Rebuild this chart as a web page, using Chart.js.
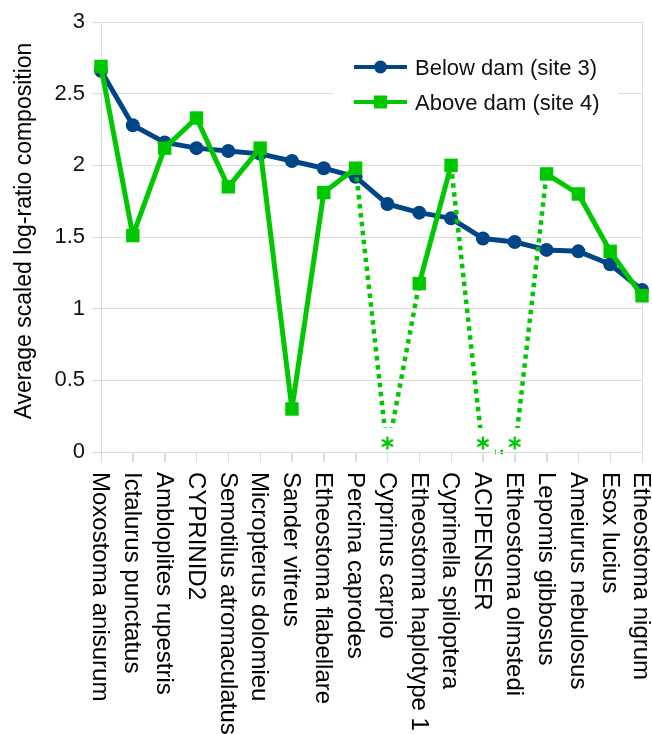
<!DOCTYPE html>
<html>
<head>
<meta charset="utf-8">
<script src="https://cdn.jsdelivr.net/npm/chart.js@4"></script>
<style>
  html, body { margin: 0; padding: 0; background: #fff; }
  #wrap { width: 652px; height: 734px; }
</style>
</head>
<body>
<div id="wrap"><canvas id="chart" width="652" height="734"></canvas></div>
<script>
const categories = [
  'Moxostoma anisurum', 'Ictalurus punctatus', 'Ambloplites rupestris', 'CYPRINID2',
  'Semotilus atromaculatus', 'Micropterus dolomieu', 'Sander vitreus', 'Etheostoma flabellare',
  'Percina caprodes', 'Cyprinus carpio', 'Etheostoma haplotype 1', 'Cyprinella spiloptera',
  'ACIPENSER', 'Etheostoma olmstedi', 'Lepomis gibbosus', 'Ameiurus nebulosus',
  'Esox lucius', 'Etheostoma nigrum'
];
const belowDam = [2.66, 2.28, 2.16, 2.12, 2.10, 2.08, 2.03, 1.98, 1.92, 1.73, 1.67, 1.63, 1.49, 1.465, 1.41, 1.40, 1.31, 1.13];
const aboveDam = [2.69, 1.51, 2.12, 2.33, 1.85, 2.12, 0.30, 1.81, 1.98, 0, 1.175, 2.00, 0, 0, 1.94, 1.80, 1.40, 1.09];
const seriesNames = ['Below dam (site 3)', 'Above dam (site 4)'];
const yTicks = { min: 0, max: 3, step: 0.5 };
const yTitle = 'Average scaled log-ratio composition';

const BLUE = '#004586';
const GREEN = '#00c800';
const GRID = '#dcdcdc';
const FONT = "'Liberation Sans', Arial, sans-serif";

// asterisk marker for zero values (white patch hides the end of the dotted line)
const star = document.createElement('canvas');
star.width = 24; star.height = 56;
(function () {
  const c = star.getContext('2d');
  c.fillStyle = '#fff';
  c.fillRect(0, 4, 24, 27);
  c.strokeStyle = GREEN;
  c.lineWidth = 2.3;
  const cx = 12, cy = 19, r = 6.5;
  for (let k = 0; k < 3; k++) {
    const a = Math.PI / 2 + k * Math.PI / 3;
    c.beginPath();
    c.moveTo(cx - r * Math.cos(a), cy - r * Math.sin(a));
    c.lineTo(cx + r * Math.cos(a), cy + r * Math.sin(a));
    c.stroke();
  }
})();

const isZero = (ctx) => ctx.p0.parsed.y === 0 || ctx.p1.parsed.y === 0;

// labels, y title and legend
const extraText = {
  id: 'extraText',
  afterDatasetsDraw(chart) {
    // put the axis line and tick marks back over the asterisk patches
    const { ctx, chartArea } = chart;
    const xs = chart.scales.x;
    ctx.save();
    ctx.strokeStyle = GRID;
    ctx.lineWidth = 1;
    ctx.beginPath();
    ctx.moveTo(chartArea.left - 9, chartArea.bottom + 0.5);
    ctx.lineTo(chartArea.right, chartArea.bottom + 0.5);
    categories.forEach((c, i) => {
      const x = Math.round(xs.getPixelForValue(i)) + 0.5;
      ctx.moveTo(x, chartArea.bottom);
      ctx.lineTo(x, chartArea.bottom + 10);
    });
    ctx.stroke();
    ctx.restore();
  },
  afterDraw(chart) {
    const { ctx, chartArea } = chart;
    const xs = chart.scales.x;
    ctx.save();
    ctx.fillStyle = '#000';
    ctx.font = '24px ' + FONT;
    ctx.textAlign = 'left';
    ctx.textBaseline = 'middle';
    categories.forEach((c, i) => {
      ctx.save();
      ctx.translate(xs.getPixelForValue(i) - 1, chartArea.bottom + 20);
      ctx.rotate(Math.PI / 2);
      ctx.fillText(c, 0, 0);
      ctx.restore();
    });

    // y axis title
    ctx.save();
    ctx.translate(25, 231);
    ctx.rotate(-Math.PI / 2);
    ctx.textAlign = 'center';
    ctx.font = '23px ' + FONT;
    ctx.fillText(yTitle, 0, 0);
    ctx.restore();

    // legend
    ctx.fillStyle = '#fff';
    ctx.fillRect(333, 48, 285, 70);
    const rows = [
      { y: 67, color: BLUE, shape: 'circle' },
      { y: 102, color: GREEN, shape: 'rect' }
    ];
    rows.forEach((r, i) => {
      ctx.strokeStyle = r.color;
      ctx.fillStyle = r.color;
      ctx.lineWidth = 4;
      ctx.beginPath();
      ctx.moveTo(354, r.y);
      ctx.lineTo(407, r.y);
      ctx.stroke();
      if (r.shape === 'circle') {
        ctx.beginPath();
        ctx.arc(380.5, r.y, 6.5, 0, Math.PI * 2);
        ctx.fill();
      } else {
        ctx.fillRect(374, r.y - 6.5, 13, 13);
      }
      ctx.fillStyle = '#111';
      ctx.font = '22px ' + FONT;
      ctx.textAlign = 'left';
      ctx.textBaseline = 'middle';
      ctx.fillText(seriesNames[i], 415, r.y + 2);
    });
    ctx.restore();
  }
};

const config = {
  type: 'line',
  data: {
    labels: categories,
    datasets: [{
      label: seriesNames[0],
      data: belowDam,
      borderColor: BLUE,
      backgroundColor: BLUE,
      borderWidth: 5,
      borderJoinStyle: 'round',
      pointStyle: 'circle',
      pointRadius: 7,
      pointBorderWidth: 0,
      pointBackgroundColor: BLUE,
      order: 1,
      clip: false
    }, {
      label: seriesNames[1],
      data: aboveDam,
      borderColor: GREEN,
      backgroundColor: GREEN,
      borderWidth: 5,
      borderJoinStyle: 'round',
      pointStyle: (c) => (c.raw === 0 ? star : 'rect'),
      pointRadius: 9.5,
      pointBorderWidth: 0,
      pointBackgroundColor: GREEN,
      segment: {
        borderDash: (c) => (isZero(c) ? [4.5, 4.5] : undefined),
        borderWidth: (c) => (isZero(c) ? 4.5 : undefined)
      },
      order: 0,
      clip: false
    }]
  },
  options: {
    responsive: false,
    animation: false,
    layout: { padding: { top: 22, right: 10, left: 0, bottom: 0 } },
    plugins: {
      legend: { display: false },
      tooltip: { enabled: false }
    },
    scales: {
      x: {
        type: 'category',
        offset: false,
        ticks: { display: false },
        grid: {
          color: (c) => (c.index === categories.length - 1 ? GRID : 'rgba(0,0,0,0)'),
          tickColor: GRID,
          tickLength: 10,
          drawOnChartArea: true
        },
        border: { display: true, color: GRID },
        afterFit: (s) => { s.height = 282; }
      },
      y: {
        min: yTicks.min,
        max: yTicks.max,
        ticks: {
          stepSize: yTicks.step,
          color: '#111',
          padding: 7,
          font: { family: FONT, size: 22 },
          callback: (v) => String(Math.round(v * 10) / 10)
        },
        grid: { color: GRID, tickColor: GRID, tickLength: 9 },
        border: { display: true, color: GRID },
        afterFit: (s) => { s.width = 101; }
      }
    }
  },
  plugins: [extraText]
};

new Chart(document.getElementById('chart').getContext('2d'), config);
</script>
</body>
</html>
